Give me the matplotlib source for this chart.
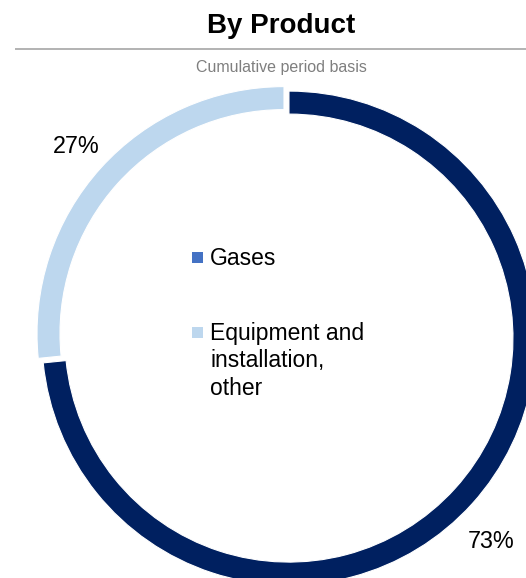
import matplotlib.pyplot as plt
from matplotlib.patches import Rectangle

W, H = 526, 578

products = ['Gases', 'Equipment and\ninstallation,\nother']
shares = [73.4, 26.6]
slice_colors = ['#002060', '#BDD7EE']
legend_colors = ['#4472C4', '#BDD7EE']

plt.rcParams['font.family'] = ['Liberation Sans', 'DejaVu Sans']

fig = plt.figure(figsize=(W / 100, H / 100), dpi=100)
ax = fig.add_axes([0, 0, 1, 1])

# explode is in data units (pixels here)
wedges, _, pcts = ax.pie(
    shares, colors=slice_colors, startangle=90, counterclock=False,
    radius=247, center=(284, H - 333.6), explode=[6.7, 0],
    autopct='%.0f%%', pctdistance=1.132,
    wedgeprops=dict(width=23, edgecolor='white', linewidth=0.8),
    textprops=dict(fontsize=16.8, color='black'))

# excel puts the big slice label a bit lower round the ring
cx, cy = wedges[0].center
pcts[0].set_position((cx + 202.5, cy - 203.6))

ax.set_xlim(0, W)
ax.set_ylim(0, H)
ax.set_aspect('equal')
ax.axis('off')

# header
ax.text(281, H - 33, 'By Product', ha='center', va='baseline',
        fontsize=20, fontweight='bold')
ax.plot([15, W], [H - 48.5, H - 48.5], color='#A6A6A6', lw=1.2,
        solid_capstyle='butt')
ax.text(281, H - 72, 'Cumulative period basis', ha='center', va='baseline',
        fontsize=11.5, color='#7F7F7F')

# legend in the hole
line_h = 27.5
marker_tops = [252, 327]
baselines = [265, 340]
for lab, col, top, base in zip(products, legend_colors, marker_tops, baselines):
    ax.add_patch(Rectangle((192, H - top - 11), 11, 11, color=col, lw=0))
    n = lab.count('\n')
    # va='baseline' sits on the last line for multi-line text
    ax.text(210, H - base - n * line_h, lab, ha='left', va='baseline',
            fontsize=16.5, linespacing=1.26)

fig.savefig('out.png', dpi=100)
